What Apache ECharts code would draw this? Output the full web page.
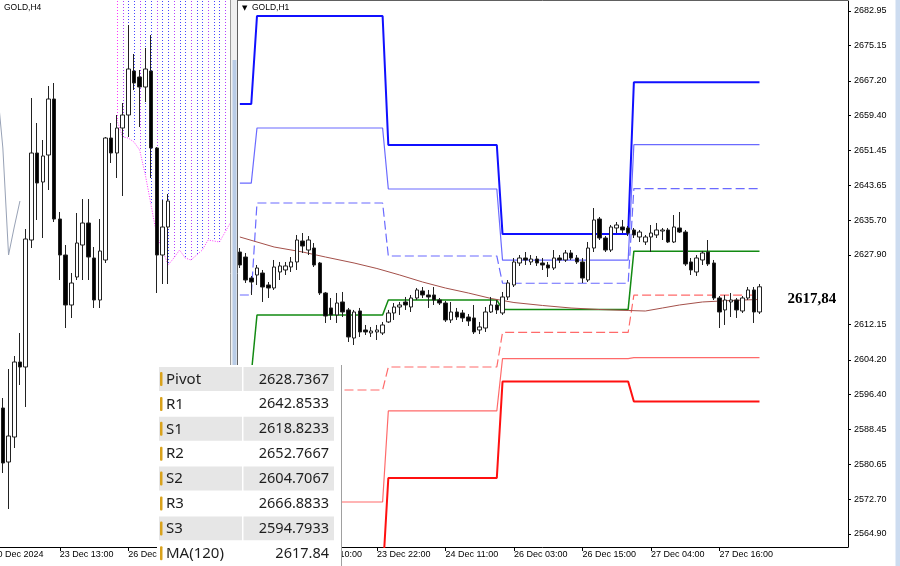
<!DOCTYPE html>
<html><head><meta charset="utf-8">
<script src="https://cdn.jsdelivr.net/npm/echarts@6/dist/echarts.min.js"></script>
<style>html,body{margin:0;padding:0;background:#fff}#c{width:900px;height:566px}</style>
</head><body><div id="c"></div>
<script>
// ---------- H1 (right panel) ----------
// [open, close, low, high]
const h1Candles = [
[2628.55,2625.62,2624.94,2629.45],[2627.42,2622.23,2621.56,2628.33],[2622.68,2621.78,2618.85,2623.14],
[2623.36,2624.94,2621.11,2625.62],[2623.81,2620.65,2617.27,2624.49],[2621.11,2620.43,2618.17,2621.78],
[2620.43,2625.17,2619.98,2626.75],[2624.04,2625.40,2622.23,2626.30],[2624.49,2625.40,2623.36,2626.30],
[2625.17,2626.30,2624.04,2627.42],[2626.30,2631.26,2624.49,2632.39],[2631.03,2629.90,2628.33,2632.84],
[2629.00,2631.26,2627.87,2632.16],[2629.45,2625.62,2625.17,2630.58],[2626.07,2619.30,2618.85,2626.30],
[2619.30,2614.11,2612.53,2619.53],[2615.92,2614.34,2613.21,2618.17],[2614.34,2617.04,2612.53,2619.30],
[2617.27,2615.01,2613.88,2619.53],[2615.47,2609.37,2608.24,2615.92],[2609.14,2615.01,2607.56,2615.47],
[2615.24,2610.50,2609.37,2615.92],[2610.95,2610.50,2609.82,2612.08],[2610.27,2610.72,2609.37,2611.63],
[2610.50,2610.95,2608.69,2612.08],[2610.27,2612.08,2609.82,2612.76],[2612.76,2614.79,2612.53,2615.47],
[2614.79,2616.14,2613.21,2617.04],[2616.14,2616.59,2614.34,2617.27],[2617.27,2616.59,2615.47,2618.40],
[2616.14,2618.17,2615.01,2618.85],[2618.17,2619.98,2617.72,2620.43],[2619.75,2618.85,2618.17,2620.65],
[2618.85,2618.40,2615.92,2619.98],[2618.85,2617.72,2616.59,2620.65],[2617.72,2617.04,2616.59,2618.17],
[2617.04,2613.21,2612.76,2617.50],[2613.21,2615.01,2612.53,2617.27],[2615.01,2613.88,2613.21,2615.92],
[2614.79,2613.66,2612.76,2615.47],[2613.88,2612.98,2611.85,2614.56],[2613.66,2610.50,2610.04,2616.59],
[2610.95,2611.63,2610.04,2612.76],[2611.40,2615.01,2610.50,2616.14],[2615.01,2616.59,2614.79,2618.40],
[2616.59,2615.47,2614.56,2617.72],[2614.79,2618.40,2614.34,2619.53],[2618.40,2621.56,2617.72,2622.23],
[2621.11,2626.30,2620.65,2627.20],[2626.07,2627.20,2625.40,2627.87],[2627.20,2626.75,2625.62,2628.55],
[2626.30,2626.97,2625.62,2627.87],[2626.97,2626.07,2625.40,2627.65],[2626.07,2625.62,2624.49,2627.20],
[2625.62,2624.94,2622.91,2626.30],[2624.94,2627.20,2624.49,2629.00],[2627.20,2626.75,2626.07,2627.87],
[2626.75,2628.33,2626.30,2629.00],[2628.33,2627.20,2626.75,2629.00],[2627.20,2626.30,2625.85,2627.87],
[2626.30,2622.68,2621.56,2627.20],[2622.23,2629.45,2621.78,2630.81],[2629.45,2635.78,2628.55,2638.48],
[2636.00,2631.71,2631.26,2636.45],[2631.71,2629.00,2628.55,2632.16],[2629.00,2634.20,2628.55,2634.65],
[2633.97,2634.65,2632.84,2635.32],[2634.20,2633.52,2632.84,2635.78],[2633.97,2632.84,2632.16,2634.42],
[2633.52,2632.39,2631.71,2633.97],[2631.94,2633.06,2630.81,2633.52],[2630.81,2631.94,2630.13,2632.39],
[2631.94,2632.84,2628.55,2634.65],[2632.39,2633.52,2631.71,2635.10],[2633.29,2633.52,2631.26,2633.97],
[2633.52,2630.81,2630.58,2633.97],[2630.81,2634.20,2630.58,2636.90],[2633.97,2633.06,2632.84,2637.58],
[2633.06,2625.85,2625.40,2633.52],[2626.30,2624.49,2623.36,2627.20],[2624.04,2627.20,2623.14,2627.87],
[2626.75,2628.33,2625.62,2628.78],[2628.55,2625.85,2625.40,2631.26],[2626.07,2618.17,2617.72,2626.75],
[2618.17,2615.01,2611.40,2618.62],[2615.47,2617.72,2612.08,2618.85],[2617.27,2617.72,2613.88,2619.30],
[2617.72,2615.47,2613.66,2618.17],[2615.24,2618.17,2614.79,2618.62],[2618.17,2619.98,2617.72,2620.65],
[2619.98,2615.01,2612.53,2620.65],[2615.01,2620.70,2614.56,2621.33]
];
const h1Slots = 107;                       // bar slots shown incl. empty right margin
const sessionStart = [0, 3, 26, 46, 69];   // first bar of each trading day
const levelR3    = [2661.96, 2681.82, 2652.70, 2632.60, 2666.8833];
const levelR2    = [2644.10, 2656.54, 2642.77, 2626.70, 2652.7667];
const levelR1    = [2618.85, 2639.61, 2627.65, 2621.50, 2642.8533];
const levelPivot = [2600.95, 2614.33, 2617.72, 2615.60, 2628.7367];
const levelS1    = [2575.75, 2597.40, 2602.60, 2610.40, 2618.8233];
const levelS2    = [2557.80, 2572.12, 2592.67, 2604.50, 2604.7067];
const levelS3    = [2532.60, 2555.19, 2577.55, 2599.30, 2594.7933];
const maPoints = [[0,2631.94],[6,2629.68],[11,2628.55],[15,2627.42],[20,2626.07],[24,2624.83],[28,2623.36],
  [32,2621.78],[36,2620.42],[40,2619.30],[44,2618.06],[48,2617.15],[53,2616.48],[58,2615.91],[63,2615.57],
  [68,2615.35],[71,2615.23],[74,2615.91],[77,2616.59],[81,2617.27],[86,2617.61],[91,2617.84]];
const maLast = 2617.84;
const lastPrice = 2620.70;
const priceTicks = [2682.95,2675.15,2667.20,2659.40,2651.45,2643.65,2635.70,2627.90,
  2612.15,2604.20,2596.40,2588.45,2580.65,2572.70,2564.90];
const h1TickIndex = [12, 24, 36, 48, 60, 72, 84];
const h1TickLabels = ['23 Dec 10:00','23 Dec 22:00','24 Dec 11:00','26 Dec 03:00','26 Dec 15:00','27 Dec 04:00','27 Dec 16:00'];

// ---------- H4 (left panel) ----------
const h4Slots = 41;
const h4Candles = [
[2598.4,2587.4,2585.4,2600.4],[2587.6,2592.8,2578.2,2606.2],[2592.6,2607.6,2590.4,2608.8],
[2607.6,2606.6,2603.0,2613.4],[2606.6,2632.2,2598.6,2634.2],[2632.0,2649.4,2630.4,2660.4],
[2649.4,2643.4,2636.0,2655.4],[2643.6,2648.8,2632.4,2652.0],[2649.0,2660.2,2642.0,2662.8],
[2660.2,2636.2,2635.6,2663.4],[2636.2,2629.0,2624.0,2637.6],[2629.0,2619.0,2614.4,2631.0],
[2619.0,2623.4,2616.4,2625.4],[2624.6,2631.4,2624.0,2637.4],[2631.0,2635.4,2624.0,2640.2],
[2635.4,2628.6,2624.0,2640.2],[2628.4,2620.0,2618.4,2630.6],[2620.0,2629.8,2618.4,2636.2],
[2628.0,2652.4,2627.4,2652.6],[2652.4,2649.4,2647.4,2655.4],[2649.4,2654.4,2644.4,2657.0],
[2654.4,2657.0,2640.8,2659.4],[2657.0,2666.2,2652.6,2675.0],[2665.8,2663.4,2662.0,2669.2],
[2664.6,2662.6,2654.6,2666.0],[2662.6,2666.2,2659.6,2670.4],[2665.8,2650.4,2644.4,2673.0],
[2650.4,2629.0,2621.4,2650.6],[2629.0,2634.6,2623.2,2640.0],[2634.6,2639.8,2623.2,2641.2]
];
const h4Chikou = [[-1,2662.6],[0,2650.4],[1,2629.0],[2,2634.6],[3,2639.8]];
const h4CloudStart = 20;
const h4CloudLower = [2656.0,2652.6,2652.4,2651.6,2650.0,2645.0,2639.0,2633.0,2630.0,2627.0,2628.4,
  2630.0,2628.4,2628.0,2629.0,2630.0,2632.0,2631.8,2631.6,2633.6,2635.6];
const h4CloudUpper = 2690.0;
const h4TickIndex = [10, 22];
const h4TickLabels = ['23 Dec 13:00','26 Dec 17:00'];
const h4CutLabel = '20 Dec 2024';   // label of the tick two bars left of the visible area

// ---------- table ----------
const tableNames  = ['Pivot','R1','S1','R2','S2','R3','S3','MA(120)'];
const tableValues = ['2628.7367','2642.8533','2618.8233','2652.7667','2604.7067','2666.8833','2594.7933','2617.84'];

// ---------- build ----------
function levelSeriesData(levels){
  const out = [];
  for (let i = 0; i < h1Candles.length; i++){
    let s = 0;
    for (let k = 0; k < sessionStart.length; k++) if (i >= sessionStart[k]) s = k;
    out.push([i, levels[s]]);
  }
  return out;
}
const chart = echarts.init(document.getElementById('c'), null, {renderer:'canvas'});
const FONT = 'Liberation Sans';
function lvl(name, levels, color, width, dashed){
  return {type:'line', name, xAxisIndex:1, yAxisIndex:1, data:levelSeriesData(levels), showSymbol:false,
    silent:true, animation:false, z:3,
    lineStyle:{color, width, type: dashed ? [9,4] : 'solid'}};
}
const h1Cats = Array.from({length:h1Slots}, (_, i) => String(i));
const h4Cats = Array.from({length:h4Slots}, (_, i) => String(i));
const BAR = 5.7;

const tableTop = 367, rowH = 24.9;
const tableGraphic = [{type:'rect', shape:{x:157, y:365, width:184, height:201}, style:{fill:'#fff'}, z:100},
  {type:'line', shape:{x1:341.5, y1:365, x2:341.5, y2:566}, style:{stroke:'#a0a0a0', lineWidth:1}, z:101}];
tableNames.forEach((n, r) => {
  const top = tableTop + r*rowH;
  const fill = r % 2 === 0 ? '#e6e6e6' : '#ffffff';
  tableGraphic.push({type:'rect', shape:{x:159, y:top, width:83, height:rowH-1}, style:{fill}, z:101});
  tableGraphic.push({type:'rect', shape:{x:243.5, y:top, width:90.5, height:rowH-1}, style:{fill}, z:101});
  tableGraphic.push({type:'rect', shape:{x:160, y:top+5, width:2.5, height:14, r:1}, style:{fill:'#d9a21c'}, z:102});
  tableGraphic.push({type:'text', x:166, y:top+rowH/2, style:{text:n, font:'15px "Noto Sans"', fill:'#1e1e1e', textVerticalAlign:'middle'}, z:102});
  tableGraphic.push({type:'text', x:329, y:top+rowH/2, style:{text:tableValues[r], font:'14.5px "Noto Sans"', fill:'#1e1e1e', textAlign:'right', textVerticalAlign:'middle'}, z:102});
});

const option = {
  animation:false,
  backgroundColor:'#fff',
  grid:[
    {left:0, top:1, width:h4Slots*BAR, bottom:19},
    {left:237, top:1, right:52, bottom:19}
  ],
  xAxis:[
    {type:'category', gridIndex:0, data:h4Cats, boundaryGap:true,
     axisLine:{show:true, lineStyle:{color:'#000'}},
     axisTick:{show:true, alignWithLabel:true, length:4, lineStyle:{color:'#000'},
       interval:(i)=>h4TickIndex.includes(i)},
     axisLabel:{show:true, interval:(i)=>h4TickIndex.includes(i), align:'left', margin:3,
       fontFamily:FONT, fontSize:9, color:'#000',
       formatter:(v, i)=>{const k = h4TickIndex.indexOf(i); return k >= 0 ? h4TickLabels[k] : '';}},
     splitLine:{show:false}},
    {type:'category', gridIndex:1, data:h1Cats, boundaryGap:true,
     axisLine:{show:true, lineStyle:{color:'#000'}},
     axisTick:{show:true, alignWithLabel:true, length:4, lineStyle:{color:'#000'},
       interval:(i)=>h1TickIndex.includes(i)},
     axisLabel:{show:true, interval:(i)=>h1TickIndex.includes(i), align:'left', margin:3,
       fontFamily:FONT, fontSize:9, color:'#000',
       formatter:(v, i)=>{const k = h1TickIndex.indexOf(i); return k >= 0 ? h1TickLabels[k] : '';}},
     splitLine:{show:false}}
  ],
  yAxis:[
    {type:'value', gridIndex:0, min:2570.6, max:2679.8, show:false, splitLine:{show:false}},
    {type:'value', gridIndex:1, position:'right', min:2561.966, max:2685.207, scale:true,
     axisLine:{show:true, lineStyle:{color:'#000'}},
     axisTick:{show:true, length:3, customValues:priceTicks, lineStyle:{color:'#000'}},
     axisLabel:{show:true, customValues:priceTicks, margin:6, fontFamily:FONT, fontSize:9, color:'#000',
       formatter:(v)=>Number(v).toFixed(2)},
     splitLine:{show:false}}
  ],
  series:[
    {type:'custom', xAxisIndex:0, yAxisIndex:0, silent:true, z:1,
     data:h4CloudLower.map((v, n)=>[h4CloudStart + n, v, h4CloudUpper]),
     encode:{x:0, y:[1,2]},
     renderItem:(params, api)=>{
       const j = api.value(0);
       const p1 = api.coord([j, api.value(2)]);
       const p2 = api.coord([j, api.value(1)]);
       const yTop = Math.max(p1[1], params.coordSys.y);
       const x = Math.round(p1[0]) + 0.5;
       return {type:'line', shape:{x1:x, y1:yTop, x2:x, y2:p2[1]},
         style:{stroke: j === h4CloudStart ? '#ff33ff' : (j % 3 === 0 ? '#b040ff' : '#4646ff'), lineWidth:1, lineDash:[1,2]}};
     }},
    {type:'line', xAxisIndex:0, yAxisIndex:0, silent:true, showSymbol:false, z:2,
     data:h4CloudLower.map((v, n)=>[h4CloudStart + n, v]),
     lineStyle:{color:'#ff33ff', width:1, type:[1,1.5]}},
    {type:'line', xAxisIndex:0, yAxisIndex:0, silent:true, showSymbol:false, z:2, clip:false,
     data:h4Chikou, lineStyle:{color:'#98a2b6', width:1}},
    {type:'candlestick', xAxisIndex:0, yAxisIndex:0, silent:true, z:4, barWidth:4,
     data:h4Candles,
     itemStyle:{color:'#fff', color0:'#000', borderColor:'#222', borderColor0:'#222', borderWidth:1}},

    lvl('R3', levelR3, '#1010ff', 2, false),
    lvl('R2', levelR2, '#6a6aff', 1.2, false),
    lvl('R1', levelR1, '#6a6aff', 1.2, true),
    lvl('Pivot', levelPivot, '#128a12', 1.5, false),
    lvl('S1', levelS1, '#ff6a6a', 1.2, true),
    lvl('S2', levelS2, '#ff6a6a', 1.2, false),
    lvl('S3', levelS3, '#ff1010', 2, false),
    {type:'line', name:'MA(120)', xAxisIndex:1, yAxisIndex:1, data:maPoints, showSymbol:false, silent:true, z:3,
     lineStyle:{color:'#a4504a', width:1},
     endLabel:{show:true, distance:28, formatter:()=>maLast.toFixed(2).replace('.', ','),
       fontFamily:'Liberation Serif', fontWeight:'bold', fontSize:15, color:'#000'}},
    {type:'candlestick', name:'GOLD,H1', xAxisIndex:1, yAxisIndex:1, silent:true, z:5, barWidth:4,
     data:h1Candles,
     itemStyle:{color:'#fff', color0:'#000', borderColor:'#222', borderColor0:'#222', borderWidth:1},
     markLine:{silent:true, symbol:'none', animation:false,
       data:[{yAxis:lastPrice}],
       lineStyle:{opacity:0},
       label:{show:true, position:'end', distance:2, formatter:()=>lastPrice.toFixed(2),
         backgroundColor:'#000', color:'#fff', padding:[2,3,1,3], fontFamily:FONT, fontSize:9}}}
  ],
  graphic:[
    {type:'line', shape:{x1:230.5, y1:0, x2:230.5, y2:547}, style:{stroke:'#9a9a9a', lineWidth:1}, z:50},
    {type:'rect', shape:{x:231, y:0, width:6.5, height:566}, style:{fill:'#f0f0f0'}, z:50},
    {type:'rect', shape:{x:232.5, y:60, width:4, height:307}, style:{fill:'#b9cce6'}, z:51},
    {type:'line', shape:{x1:237.5, y1:0, x2:237.5, y2:547}, style:{stroke:'#606060', lineWidth:1}, z:52},
    {type:'line', shape:{x1:237.5, y1:0.5, x2:848, y2:0.5}, style:{stroke:'#606060', lineWidth:1}, z:52},
    {type:'rect', shape:{x:895.5, y:0, width:4.5, height:566}, style:{fill:'#cddcf0'}, z:50},
    {type:'text', x:2.85 - 2*BAR + 1, y:555, style:{text:h4CutLabel, font:'9px "Liberation Sans"', fill:'#000', textVerticalAlign:'middle'}, z:60},
    {type:'text', x:4, y:8, style:{text:'GOLD,H4', font:'8.5px "Liberation Sans"', fill:'#000', textVerticalAlign:'middle'}, z:60},
    {type:'text', x:242, y:8, style:{text:'▼', font:'7px "DejaVu Sans"', fill:'#000', textVerticalAlign:'middle'}, z:60},
    {type:'text', x:252, y:8, style:{text:'GOLD,H1', font:'8.5px "Liberation Sans"', fill:'#000', textVerticalAlign:'middle'}, z:60},
    ...tableGraphic
  ]
};
chart.setOption(option);
</script>
</body></html>
